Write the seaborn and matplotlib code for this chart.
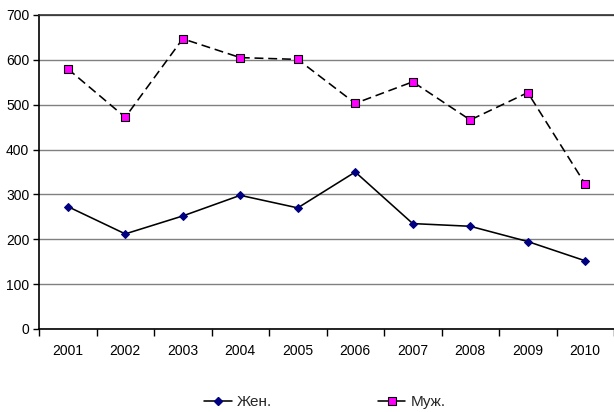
import matplotlib
matplotlib.use("Agg")
import matplotlib.pyplot as plt
from matplotlib.lines import Line2D
from matplotlib.ticker import FixedLocator
from matplotlib.font_manager import FontProperties
import seaborn as sns
import pandas as pd

years = ["2001", "2002", "2003", "2004", "2005", "2006", "2007", "2008", "2009", "2010"]
women = [273, 212, 252, 298, 270, 350, 235, 229, 195, 152]
men = [580, 472, 647, 605, 601, 503, 551, 466, 527, 323]
series_names = ["Жен.", "Муж."]

sns.set_theme(style="white")
plt.rcParams["font.family"] = ["Liberation Sans", "DejaVu Sans"]

df_w = pd.DataFrame({"year": years, "value": women})
df_m = pd.DataFrame({"year": years, "value": men})

fig = plt.figure(figsize=(6.14, 4.12), dpi=100)
ax = fig.add_axes([39 / 614, 1 - 329 / 412, 1 - 39 / 614, (329 - 15) / 412])

LW = 1.15
sns.lineplot(data=df_w, x="year", y="value", ax=ax, color="black", lw=LW,
             marker="D", markersize=4.5, markerfacecolor="#000080",
             markeredgecolor="#000080", sort=False, zorder=3)
sns.lineplot(data=df_m, x="year", y="value", ax=ax, color="black", lw=LW,
             marker="s", markersize=5.8, markerfacecolor="#FF00FF",
             markeredgecolor="black", markeredgewidth=0.8, sort=False, zorder=3)
ax.lines[1].set_linestyle((0, (5.6, 3.0)))

ax.set_xlim(-0.5, len(years) - 0.5)
ax.set_ylim(0, 700)
ax.set_yticks(range(0, 701, 100))
ax.yaxis.grid(True, color="#808080", lw=1)
ax.xaxis.grid(False)
ax.set_xlabel("")
ax.set_ylabel("")

# category boundaries carry the tick marks
ax.xaxis.set_minor_locator(FixedLocator([i - 0.5 for i in range(len(years) + 1)]))
ax.tick_params(axis="x", which="major", length=0, pad=11, labelsize=10, colors="black")
ax.tick_params(axis="x", which="minor", length=5, width=1, color="black", direction="out", bottom=True)
ax.tick_params(axis="y", which="major", length=4, width=1, color="black", direction="out",
               left=True, labelsize=10, colors="black", pad=3)

for side in ["left", "bottom"]:
    ax.spines[side].set_color("black")
    ax.spines[side].set_linewidth(1.2)
ax.spines["top"].set_color("#303030")
ax.spines["top"].set_linewidth(1.2)
ax.spines["right"].set_visible(False)

handles = [
    Line2D([], [], color="black", lw=LW, marker="D", markersize=4,
           markerfacecolor="#000080", markeredgecolor="#000080"),
    Line2D([], [], color="black", lw=LW, marker="s", markersize=5.5,
           markerfacecolor="#FF00FF", markeredgecolor="black", markeredgewidth=0.8),
]
legend_font = FontProperties(family=["Liberation Sans", "DejaVu Sans"], style="normal", size=11)
fig.legend(handles, series_names, loc="center", bbox_to_anchor=(325 / 614, 1 - 402 / 412),
           ncol=2, frameon=False, prop=legend_font, handlelength=1.8, handletextpad=0.35,
           columnspacing=6.9)

fig.savefig("out.png", dpi=100)
